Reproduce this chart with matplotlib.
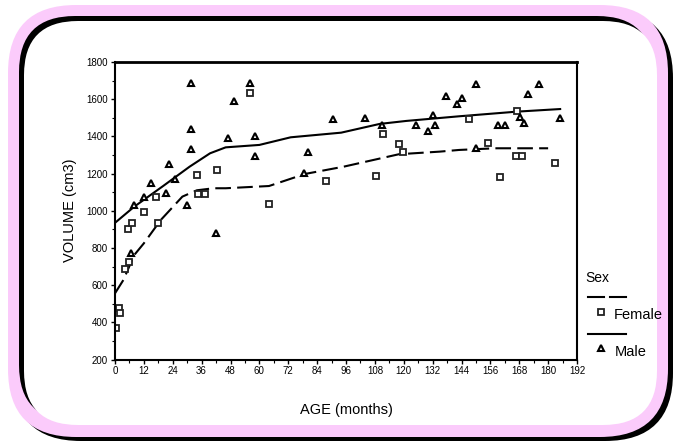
import matplotlib
matplotlib.use("Agg")
import matplotlib.pyplot as plt
from matplotlib.patches import FancyBboxPatch
from matplotlib.lines import Line2D
from matplotlib.ticker import MultipleLocator

plt.rcParams['font.family'] = ['Liberation Sans', 'DejaVu Sans']

# data (age in months, volume in cm3)
female_age = [0.3, 1.5, 2, 4, 6, 5.5, 7, 12, 17, 18, 34, 34.5, 37.5, 42.5, 56, 64,
              87.5, 108.5, 111.5, 118, 119.5, 147, 155, 160, 166.5, 167, 169, 183]
female_vol = [368, 475, 449, 685, 723, 900, 936, 993, 1076, 936, 1192, 1090, 1090, 1219, 1632, 1036,
              1158, 1188, 1415, 1357, 1315, 1492, 1366, 1183, 1294, 1536, 1294, 1258]

male_age = [6.5, 8, 12, 15, 21, 22.5, 25, 30, 31.5, 31.5, 31.5, 42, 47, 49.5, 56, 58, 58,
            78.5, 80, 90.5, 104, 111, 125, 130, 132, 133, 137.5, 142, 144, 150, 150,
            159, 162, 168.5, 170, 171.5, 176, 185]
male_vol = [771, 1031, 1076, 1151, 1097, 1250, 1172, 1031, 1332, 1438, 1685, 879, 1393, 1592, 1689, 1402, 1294,
            1205, 1318, 1492, 1497, 1460, 1460, 1429, 1515, 1461, 1617, 1576, 1605, 1682, 1336,
            1460, 1460, 1506, 1470, 1628, 1682, 1497]

# fitted curves
female_fit_age = [0, 3.5, 8, 12, 19, 28, 34, 41, 46, 64, 79, 95, 118, 135, 143, 158, 180]
female_fit_vol = [556, 628, 762, 825, 950, 1076, 1110, 1121, 1121, 1133, 1198, 1237, 1304, 1318, 1327, 1336, 1336]
male_fit_age = [0, 8, 20, 31, 39.5, 46, 60, 73, 94, 110, 121, 143, 167, 185]
male_fit_vol = [935, 1022, 1133, 1237, 1309, 1341, 1354, 1395, 1420, 1467, 1483, 1508, 1533, 1547]

W, H = 675, 442
fig = plt.figure(figsize=(W / 100, H / 100), dpi=100)

# background frame, drawn in pixel coordinates
bg = fig.add_axes([0, 0, 1, 1], zorder=0)
bg.set_xlim(0, W)
bg.set_ylim(H, 0)
bg.axis('off')

def rbox(x0, y0, x1, y1, r, color):
    bg.add_patch(FancyBboxPatch((x0, y0), x1 - x0, y1 - y0,
                                boxstyle=f"round,pad=0,rounding_size={r}",
                                fc=color, ec='none'))

rbox(13, 10, 673, 441, 68, 'black')
rbox(8, 5, 668, 437, 68, '#fbcbfb')
rbox(19, 16, 653, 421, 56, 'black')
rbox(24, 21, 657, 425, 54, 'white')

dash = (7.5, 3)

# main plot
ax = fig.add_axes([115 / W, 1 - 359.5 / H, 462 / W, 297.5 / H], zorder=2)
ax.plot(female_fit_age, female_fit_vol, color='black', lw=1.5, dashes=dash)
ax.plot(male_fit_age, male_fit_vol, color='black', lw=1.5)
ax.plot(female_age, female_vol, 's', ms=4.5, mfc='white', mec='#222222', mew=1.3)
ax.plot(male_age, male_vol, '^', ms=5, mfc='white', mec='black', mew=1.5)

ax.set_xlim(0, 192)
ax.set_ylim(200, 1800)
ax.xaxis.set_major_locator(MultipleLocator(12))
ax.xaxis.set_minor_locator(MultipleLocator(6))
ax.yaxis.set_major_locator(MultipleLocator(200))
ax.yaxis.set_minor_locator(MultipleLocator(100))
ax.tick_params(which='major', length=3, width=1, labelsize=7, pad=2)
ax.tick_params(which='minor', length=2, width=0.8)
for s in ax.spines.values():
    s.set_linewidth(1.5)
ax.spines['top'].set_linewidth(2)

ax.set_xlabel('AGE (months)', fontsize=10.5, labelpad=19)
ax.set_ylabel('VOLUME (cm3)', fontsize=10.5, labelpad=7)

# legend, built by hand to mimic the original layout
bg.text(585, 278, 'Sex', fontsize=10, va='center', ha='left')
bg.add_line(Line2D([588, 604], [297, 297], color='black', lw=1.5))
bg.add_line(Line2D([610, 626], [297, 297], color='black', lw=1.5))
bg.plot([601], [312], 's', ms=4.5, mfc='white', mec='#222222', mew=1.3)
bg.text(614, 315, 'Female', fontsize=10.5, va='center', ha='left')
bg.add_line(Line2D([588, 626], [334, 334], color='black', lw=1.5))
bg.plot([601], [348], '^', ms=5, mfc='white', mec='black', mew=1.5)
bg.text(615, 352, 'Male', fontsize=10.5, va='center', ha='left')

fig.savefig('out.png', dpi=100)
